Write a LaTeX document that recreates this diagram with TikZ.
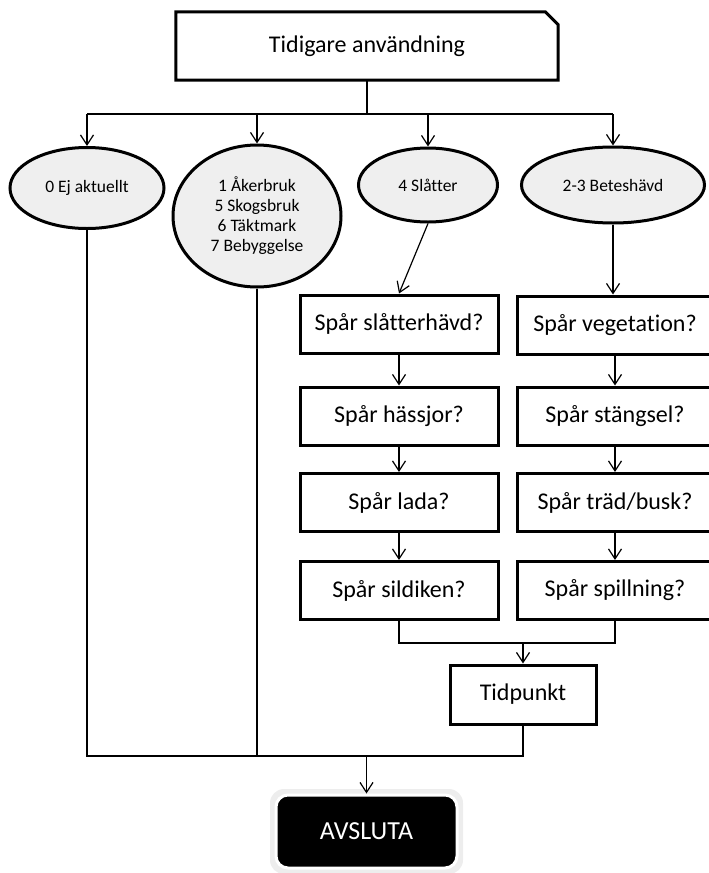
\documentclass[tikz,border=0pt]{standalone}
\usepackage{fontspec}
\setmainfont[Ligatures=NoCommon]{Carlito}
\usetikzlibrary{arrows.meta,shapes.geometric}
\definecolor{ellfill}{HTML}{EFEFEF}
\begin{document}
\begin{tikzpicture}[x=1pt,y=-1pt,
  conn/.style={line width=1.2pt,black},
  arr/.style={conn,-{Straight Barb[length=10pt,width=13pt,line width=1.2pt]}},
  qbox/.style={draw,line width=3pt,rectangle,minimum width=198pt,minimum height=58pt,inner sep=0pt,font=\fontsize{24}{28}\selectfont},
  ell/.style={draw,line width=3pt,ellipse,fill=ellfill,inner sep=0pt,align=center,font=\fontsize{17.5}{20}\selectfont}
]
\useasboundingbox (0,0) rectangle (709,873);
\clip (0,0) rectangle (709,873);

% top box with clipped corner
\node[rectangle,minimum width=382pt,minimum height=68pt,inner sep=0pt,font=\fontsize{24}{28}\selectfont] (top) at (367,46) {Tidigare användning};
\draw[line width=3pt,line join=miter] (top.north west) -- ([xshift=-13pt]top.north east) -- ([yshift=-13pt]top.north east) -- (top.south east) -- (top.south west) -- cycle;

% ellipses
\node[ell,minimum width=154pt,minimum height=81pt] (e0) at (87,188) {0 Ej aktuellt};
\node[ell,minimum width=168pt,minimum height=142pt] (e1) at (257,216) {1 Åkerbruk\\5 Skogsbruk\\6 Täktmark\\7 Bebyggelse};
\node[ell,minimum width=139pt,minimum height=74pt] (sl) at (428,185) {4 Slåtter};
\node[ell,minimum width=183pt,minimum height=76pt] (bet) at (613,185) {2-3 Beteshävd};

% question boxes
\node[qbox] (s1) at (399,324) {Spår slåtterhävd?};
\node[qbox] (s2) at (399,416) {Spår hässjor?};
\node[qbox] (s3) at (399,502.5) {Spår lada?};
\node[qbox] (s4) at (399,590.5) {Spår sildiken?};
\node[qbox,minimum width=196pt] (v1) at (615,325) {Spår vegetation?};
\node[qbox,minimum width=196pt] (v2) at (615,416) {Spår stängsel?};
\node[qbox,minimum width=196pt] (v3) at (615,502.5) {Spår träd/busk?};
\node[qbox,minimum width=196pt] (v4) at (615,590.5) {Spår spillning?};

\node[qbox,minimum width=146pt,minimum height=59pt] (tid) at (523,694.5) {Tidpunkt};

% AVSLUTA
\fill[black!7,rounded corners=14pt] (270,789) rectangle (463,874);
\node[rectangle,rounded corners=12pt,fill=black,draw=white,line width=3pt,minimum width=181pt,minimum height=73pt,inner sep=0pt,text=white,font=\fontsize{26}{30}\selectfont] (end) at (366.5,831.5) {AVSLUTA};

% bus from top
\coordinate (bus) at (367,114);
\draw[conn] (top.south) -- (bus);
\draw[conn] (bus -| e0.north) -- (bus -| bet.north);
\draw[arr] (bus -| e0.north) -- (e0.north);
\draw[arr] (bus -| e1.north) -- (e1.north);
\draw[arr] (bus -| sl.north) -- (sl.north);
\draw[arr] (bus -| bet.north) -- (bet.north);

% into columns
\draw[arr] (sl.south) -- (s1.north);
\draw[arr] (bet.south) -- (bet.south |- v1.north);
\draw[arr] (s1.south) -- (s2.north);
\draw[arr] (s2.south) -- (s3.north);
\draw[arr] (s3.south) -- (s4.north);
\draw[arr] (v1.south) -- (v2.north);
\draw[arr] (v2.south) -- (v3.north);
\draw[arr] (v3.south) -- (v4.north);

% merge to Tidpunkt
\coordinate (m) at (523,643);
\draw[conn] (s4.south) |- (m) -| (v4.south);
\draw[arr] (m) -- (tid.north);

% merge to AVSLUTA
\coordinate (n) at (366.5,756);
\draw[conn] (e0.south) |- (n) -| (tid.south);
\draw[conn] (e1.south) -- (e1.south |- n);
\draw[arr] (n) -- (end.north);
\end{tikzpicture}
\end{document}
